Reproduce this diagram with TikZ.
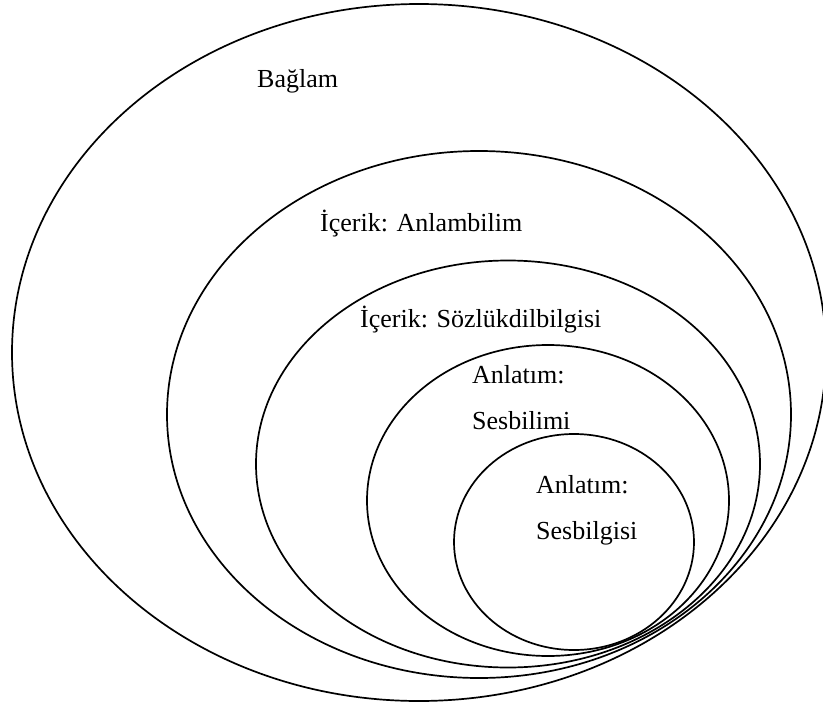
\documentclass[tikz,border=0pt]{standalone}
\usepackage{fontspec}
\setmainfont{Liberation Serif}
\usetikzlibrary{shapes.geometric}
\tikzset{
  ring/.style={draw=black, line width=1.7pt, ellipse, inner sep=0pt, outer sep=0pt},
  lbl/.style={anchor=base west, inner sep=0pt, font=\fontsize{26}{30}\selectfont}
}
\begin{document}
\begin{tikzpicture}[x=1pt, y=-1pt]
  \useasboundingbox (0,0) rectangle (823,707);
  % nested levels, all closing in on one another near the lower right
  \node[ring, minimum width=814pt, minimum height=697pt] (baglam) at (419,352.5) {};
  \node[ring, minimum width=624pt, minimum height=527pt] (anlam) at (479,414.5) {};
  \node[ring, minimum width=504pt, minimum height=407pt] (sozluk) at (508,464) {};
  \node[ring, minimum width=362pt, minimum height=311pt] (sesbilim) at (548,500.5) {};
  \node[ring, minimum width=240pt, minimum height=216pt] (sesbilgi) at (574,542) {};
  % labels
  \node[lbl] (t1) at (257,87) {Bağlam};
  \node[lbl] (t2) at (320,231) {İçerik: Anlambilim};
  \node[lbl] (t3) at (360,327) {İçerik: Sözlükdilbilgisi};
  \node[lbl] (t4) at (472,383) {Anlatım:};
  \node[lbl] (t5) at (472,429) {Sesbilimi};
  \node[lbl] (t6) at (536,493) {Anlatım:};
  \node[lbl] (t7) at (536,539) {Sesbilgisi};
\end{tikzpicture}
\end{document}
